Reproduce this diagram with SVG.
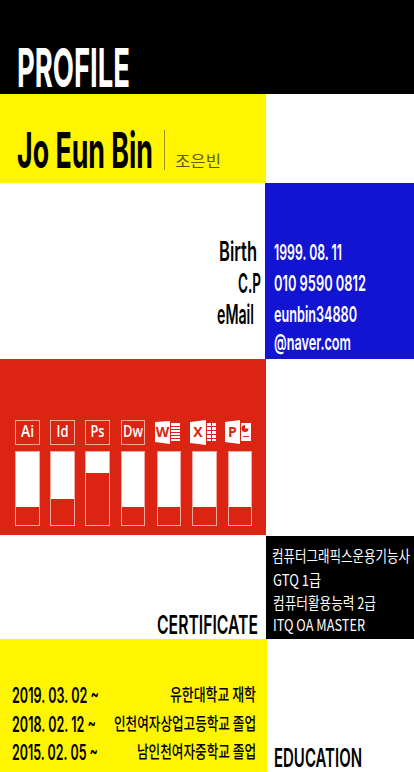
<svg xmlns="http://www.w3.org/2000/svg" width="414" height="772" viewBox="0 0 414 772">
<style>
text{font-family:"Inter","Liberation Sans","Noto Sans CJK KR",sans-serif}
.k{font-family:"Noto Sans CJK KR",sans-serif}
.bar{fill:#fff}
.frame{fill:none;stroke:#f4a9a0;stroke-width:1}
.lab{font-family:"Open Sans","Liberation Sans",sans-serif;font-size:16.500px;fill:#fff;font-weight:600}
.ic{fill:#fff}
.icl{font-family:"Open Sans",sans-serif;font-size:14px;font-weight:700;fill:#dc2412;text-anchor:middle}
.ln{fill:#dc2412}
</style>
<rect width="414" height="772" fill="#fff"/>
<g id="profile-header"><rect width="414" height="94" fill="#000"/>
<text x="17" y="87" font-size="54" font-weight="700" fill="#fff" textLength="113" lengthAdjust="spacingAndGlyphs">PROFILE</text></g>
<g id="name"><rect y="94" width="266" height="89" fill="#fff500"/>
<text x="17" y="168" font-size="50" font-weight="700" fill="#000" textLength="136" lengthAdjust="spacingAndGlyphs">Jo Eun Bin</text>
<rect x="164" y="130" width="1" height="40" fill="#9a9410"/>
<text class="k" x="175" y="167" font-size="15.500" fill="#5f5c10" textLength="46" lengthAdjust="spacingAndGlyphs">조은빈</text></g>
<g id="contact"><rect x="265" y="183" width="149" height="176" fill="#1313d2"/>
<g font-size="27" font-weight="600" fill="#000">
<text x="219" y="261" textLength="38" lengthAdjust="spacingAndGlyphs">Birth</text>
<text x="238" y="293" textLength="23" lengthAdjust="spacingAndGlyphs">C.P</text>
<text x="217" y="324" textLength="37" lengthAdjust="spacingAndGlyphs">eMail</text></g>
<g font-size="22" font-weight="600" fill="#fff">
<text x="274" y="260" textLength="68" lengthAdjust="spacingAndGlyphs">1999. 08. 11</text>
<text x="274" y="291" textLength="92" lengthAdjust="spacingAndGlyphs">010 9590 0812</text>
<text x="274" y="322" textLength="83" lengthAdjust="spacingAndGlyphs">eunbin34880</text>
<text x="274" y="350" textLength="77" lengthAdjust="spacingAndGlyphs">@naver.com</text></g></g>
<g id="skills"><rect y="359" width="266" height="176" fill="#dc2412"/>
<g id="skill-ai"><rect class="frame" x="15.500" y="420.500" width="24" height="24"/><text class="lab" x="21" y="437" textLength="13" lengthAdjust="spacingAndGlyphs">Ai</text><rect class="bar" x="15" y="451" width="25" height="56"/><rect class="frame" x="15.500" y="451.500" width="24" height="74"/></g>
<g id="skill-id"><rect class="frame" x="50.500" y="420.500" width="24" height="24"/><text class="lab" x="56.500" y="437" textLength="12" lengthAdjust="spacingAndGlyphs">Id</text><rect class="bar" x="50" y="451" width="25" height="48"/><rect class="frame" x="50.500" y="451.500" width="24" height="74"/></g>
<g id="skill-ps"><rect class="frame" x="85.500" y="420.500" width="24" height="24"/><text class="lab" x="90.500" y="437" textLength="14" lengthAdjust="spacingAndGlyphs">Ps</text><rect class="bar" x="85" y="451" width="25" height="22"/><rect class="frame" x="85.500" y="451.500" width="24" height="74"/></g>
<g id="skill-dw"><rect class="frame" x="121.500" y="420.500" width="23" height="24"/><text class="lab" x="123" y="437" textLength="20" lengthAdjust="spacingAndGlyphs">Dw</text><rect class="bar" x="121" y="451" width="24" height="56"/><rect class="frame" x="121.500" y="451.500" width="23" height="74"/></g>
<g id="skill-word"><path class="ic" d="M155 422l15-1v23l-15-2z"/><path class="ic" d="M171 423h9v18h-9z"/><path class="ln" d="M171 426h9v1h-9zM171 429h9v1h-9zM171 432h9v1h-9zM171 435h9v1h-9zM171 438h9v1h-9z"/><text class="icl" x="162.500" y="437">W</text><rect class="bar" x="157" y="451" width="24" height="56"/><rect class="frame" x="157.500" y="451.500" width="23" height="74"/></g>
<g id="skill-excel"><path class="ic" d="M190 422l16-2v25l-16-2z"/><path class="ic" d="M207 423h9v18h-9z"/><path class="ln" d="M207 426h9v1h-9zM207 430h9v1h-9zM207 434h9v1h-9zM207 438h9v1h-9zM211 423h1v18h-1z"/><text class="icl" x="198" y="437">X</text><rect class="bar" x="192" y="451" width="25" height="56"/><rect class="frame" x="192.500" y="451.500" width="24" height="74"/></g>
<g id="skill-ppt"><path class="ic" d="M225 422l15-2v24l-15-2z"/><path class="ic" d="M241 423h10v18h-10z"/><path class="ln" d="M243 436h6v1h-6zM245 425a3.500 3.500 0 1 0 3.500 3.500h-3.500z"/><text class="icl" x="232.500" y="437">P</text><rect class="bar" x="228" y="451" width="24" height="56"/><rect class="frame" x="228.500" y="451.500" width="23" height="74"/></g></g>
<g id="certificate"><rect x="266" y="536" width="148" height="103" fill="#000"/>
<text x="157" y="634" font-size="26" font-weight="600" fill="#000" textLength="101" lengthAdjust="spacingAndGlyphs">CERTIFICATE</text>
<g font-size="15.500" fill="#fff">
<text class="k" x="272" y="562" textLength="138" lengthAdjust="spacingAndGlyphs">컴퓨터그래픽스운용기능사</text>
<text class="k" x="273" y="586" textLength="48" lengthAdjust="spacingAndGlyphs">GTQ 1급</text>
<text class="k" x="273" y="609" textLength="103" lengthAdjust="spacingAndGlyphs">컴퓨터활용능력 2급</text>
<text class="k" x="273" y="631" textLength="92" lengthAdjust="spacingAndGlyphs">ITQ OA MASTER</text></g></g>
<g id="education"><rect y="639" width="267" height="133" fill="#fff500"/>
<g font-size="21" font-weight="600" fill="#000">
<text x="12" y="703" textLength="87" lengthAdjust="spacingAndGlyphs">2019. 03. 02 ~</text>
<text x="12" y="732" textLength="84" lengthAdjust="spacingAndGlyphs">2018. 02. 12 ~</text>
<text x="12" y="760" textLength="86" lengthAdjust="spacingAndGlyphs">2015. 02. 05 ~</text></g>
<g font-size="17" font-weight="500" fill="#000">
<text class="k" x="170" y="701" textLength="86" lengthAdjust="spacingAndGlyphs">유한대학교 재학</text>
<text class="k" x="114" y="730" textLength="142" lengthAdjust="spacingAndGlyphs">인천여자상업고등학교 졸업</text>
<text class="k" x="137" y="758" textLength="119" lengthAdjust="spacingAndGlyphs">남인천여자중학교 졸업</text></g>
<text x="274" y="767" font-size="26" font-weight="600" fill="#000" textLength="88" lengthAdjust="spacingAndGlyphs">EDUCATION</text></g>
</svg>
